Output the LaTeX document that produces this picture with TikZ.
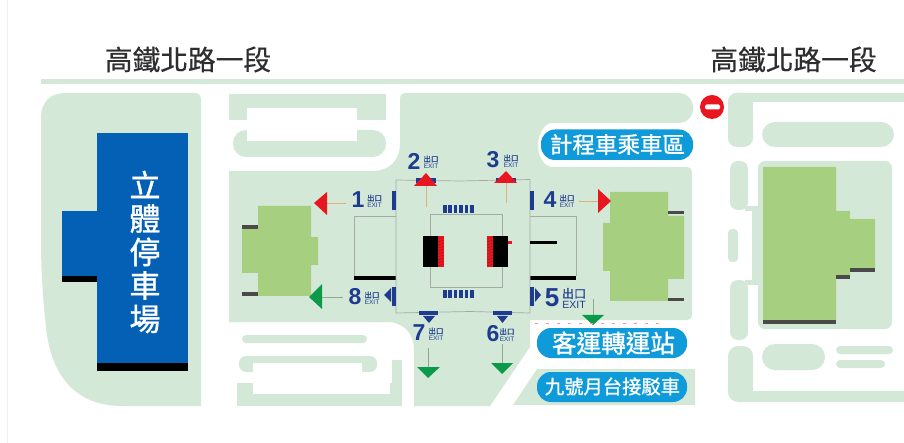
\documentclass[tikz,border=0pt]{standalone}
\usepackage{fontspec}
\setmainfont{Liberation Sans}
\newfontfamily\cjk[FakeBold=0.5]{Noto Sans CJK TC}
\newfontfamily\cjkb[FakeBold=1.2]{Noto Sans CJK TC}
\definecolor{pale}{HTML}{D4E8D7}
\definecolor{bldg}{HTML}{A6CF80}
\definecolor{parkblue}{HTML}{0460B4}
\definecolor{tagblue}{HTML}{0F9ADA}
\definecolor{navy}{HTML}{1F3B8F}
\definecolor{redarrow}{HTML}{E8161F}
\definecolor{greenarrow}{HTML}{0A9A4A}
\definecolor{darkbar}{HTML}{4A4A4A}
\definecolor{wall}{HTML}{A3ABA3}
\definecolor{tan}{HTML}{E0B080}
\definecolor{stem}{HTML}{8FA890}
\tikzset{
  ground/.style={fill=pale,draw=none},
  hole/.style={fill=white,draw=none},
  house/.style={fill=bldg,draw=none},
  dbar/.style={fill=darkbar,draw=none},
  kbar/.style={fill=black,draw=none},
  nbar/.style={fill=navy,draw=none},
  wallbox/.style={draw=wall,line width=.7pt},
  tag/.style={fill=tagblue,draw=none,rounded corners=14pt},
  tagtext/.style={text=white,inner sep=0pt,font=\cjkb},
  title/.style={text=black!82,inner sep=0pt,font=\cjk\fontsize{27.7}{28}\selectfont},
  digit/.style={text=navy,inner sep=0pt,font=\bfseries\fontsize{23}{23}\selectfont},
  cn/.style={text=navy,inner sep=0pt,font=\cjk\fontsize{7.5}{8}\selectfont},
  en/.style={text=navy,inner sep=0pt,font=\fontsize{6.5}{6.5}\selectfont},
}
\newcommand{\exitlabel}[4]{%
  \node[digit] (d#1) at (#2,#4) {#1};
  \node[cn] (c#1) at (#3,#4-2) {出口};
  \node[en] (e#1) at (#3,#4+5.5) {EXIT};
}
\begin{document}
\begin{tikzpicture}[x=1pt,y=-1pt]
\useasboundingbox (0,0) rectangle (904,443);
\fill[white] (0,0) rectangle (904,443);
\draw[black!6,line width=.8pt] (7,0) -- (7,443);
% road + titles
\fill[ground] (41,79.5) rectangle (904,84.5);
\node[title] (t1) at (188,59.5) {高鐵北路一段};
\node[title] (t2) at (793.5,59.5) {高鐵北路一段};
% left parking ground
\path[ground] (66,93) -- (195,93) .. controls (199,93) and (201,96) .. (201,100) -- (201,406)
  -- (122,406) .. controls (75,406) and (53,375) .. (47,335) .. controls (43,305) and (41,270) .. (41,240)
  -- (41,118) .. controls (41,102) and (50,93) .. (66,93) -- cycle;
\fill[parkblue] (97,133) rectangle (188,363);
\fill[parkblue] (62,211) rectangle (97,277);
\fill[black] (97,362.5) rectangle (188,371);
\fill[black] (62,276) rectangle (97,282);
\node[text=white,inner sep=0pt,align=center,font=\cjkb\fontsize{31}{33.4}\selectfont] (park) at (145,252) {立\\體\\停\\車\\場};
% top-middle ground
\fill[ground] (229,94) rectangle (386,120);
\fill[ground,rounded corners=13pt] (233,130) rectangle (386,157);
\fill[hole] (247,108) rectangle (357,141);
% central ground
\path[ground] (229,171) -- (372,171) .. controls (390,171) and (400,160) .. (400,143) -- (400,99)
  .. controls (400,95) and (402,93) .. (406,93) -- (678,93) .. controls (688,93) and (693,100) .. (693,108)
  .. controls (693,116) and (688,123) .. (678,123) -- (552,123) .. controls (544,123) and (538,135) .. (538,145)
  .. controls (538,157) and (544,167) .. (553,167) -- (686,167) .. controls (690,167) and (692,169) .. (692,173)
  -- (692,314) .. controls (692,318) and (690,320) .. (686,320) -- (530,320) -- (530,347) -- (490,406)
  -- (414,406) -- (414,350) .. controls (414,333) and (403,322) .. (387,322) -- (229,322) -- cycle;
\fill[ground] (513,405) -- (535,372) -- (537,369) -- (695,369) -- (695,405) -- cycle;
% lower-left ground
\fill[ground,rounded corners=4pt] (242,335) rectangle (367,343);
\fill[ground,rounded corners=7pt] (239,356) rectangle (377,372);
\fill[ground] (237,383) rectangle (400,406);
\fill[ground] (392,360) rectangle (402,406);
\fill[hole] (253,363) rectangle (362,383);
\fill[hole] (253,372) rectangle (390,394);
% right ground
\fill[ground,rounded corners=9pt] (728,93) rectangle (920,120);
\fill[ground,rounded corners=9pt] (728,93) rectangle (753,147);
\fill[hole] (753,102) rectangle (904,125);
\fill[ground,rounded corners=13pt] (762,122) rectangle (894,147);
\fill[ground,rounded corners=7pt] (758,161) rectangle (892,329);
\fill[ground,rounded corners=8pt] (730,161) rectangle (748,210);
\fill[ground] (745,206) rectangle (760,211);
\fill[ground] (752,206) rectangle (760,284);
\fill[ground,rounded corners=8pt] (730,280) rectangle (748,340);
\fill[ground] (745,280) rectangle (760,285);
\fill[ground,rounded corners=4pt] (728,229) rectangle (738,262);
\fill[ground,rounded corners=10pt] (728,346) rectangle (753,402);
\fill[ground] (745,391) rectangle (904,402);
\fill[ground,rounded corners=13pt] (762,344) rectangle (825,370);
\fill[ground,rounded corners=4pt] (836,346) rectangle (893,354);
\fill[ground,rounded corners=4pt] (836,360) rectangle (885,368);
% buildings
\path[house] (258,206) -- (311,206) -- (311,237) -- (318,237) -- (318,265) -- (311,265) -- (311,296) -- (258,296) -- (258,273) -- (242,273) -- (242,229) -- (258,229) -- cycle;
\fill[dbar] (242,225) rectangle (258,229);
\fill[dbar] (242,292) rectangle (258,296);
\path[house] (610,192) -- (668,192) -- (668,216) -- (684,216) -- (684,279) -- (668,279) -- (668,301) -- (610,301) -- (610,271) -- (603,271) -- (603,223) -- (610,223) -- cycle;
\fill[dbar] (668,211) rectangle (684,214.5);
\fill[dbar] (668,298) rectangle (684,301);
\path[house] (763,167) -- (836,167) -- (836,211) -- (850,211) -- (850,219) -- (875,219) -- (875,268) -- (850,268) -- (850,276) -- (836,276) -- (836,320) -- (763,320) -- cycle;
\fill[dbar] (763,320) rectangle (836,324);
\fill[dbar] (836,275) rectangle (850,279);
\fill[dbar] (850,268) rectangle (875,272);
% station
\draw[wallbox] (396,216) -- (354,216) -- (354,276);
\draw[wallbox] (530,216) -- (576,216) -- (576,276);
\fill[kbar] (354,276) rectangle (396,280);
\fill[kbar] (530,276) rectangle (576,280);
\draw[wallbox,fill=pale] (396,180) -- (460,181) -- (530,179.5) -- (530,313) -- (470,311.5) -- (396,313) -- cycle;
\fill[kbar] (530,241) rectangle (557,244);
\fill[nbar] (392,191) rectangle (396,210);
\fill[nbar] (530,191) rectangle (534,210);
\fill[nbar] (392,287) rectangle (396,306);
\fill[nbar] (530,287) rectangle (534,306);
\fill[navy] (391,288) -- (391,302) -- (384,295) -- cycle;
\fill[navy] (535,288) -- (535,302) -- (541,295) -- cycle;
\fill[nbar] (416,178) rectangle (436,183);
\fill[nbar] (496,178) rectangle (516,183);
\fill[nbar] (419,311) rectangle (438,315);
\fill[nbar] (493,311) rectangle (512,315);
\fill[navy] (423,316) -- (435,316) -- (429,323) -- cycle;
\fill[navy] (497,316) -- (508,316) -- (502.5,323) -- cycle;
\draw[wallbox] (430,214) rectangle (502,287);
\fill[kbar] (423,236) rectangle (438,267);
\fill[redarrow] (438,236) rectangle (444,267);
\fill[redarrow] (487,236) rectangle (493,267);
\fill[kbar] (493,236) rectangle (508,267);
\fill[redarrow] (508,241) rectangle (512,244);
\foreach \i in {0,...,9} {
  \draw[black!25!redarrow,line width=.35pt] (438,239+\i*3) -- (444,237+\i*3);
  \draw[black!25!redarrow,line width=.35pt] (487,239+\i*3) -- (493,237+\i*3);
}
\foreach \i in {0,...,5} {
  \fill[navy] (443+\i*5.4,205) rectangle +(3.6,8);
  \fill[navy] (443+\i*5.4,290) rectangle +(3.6,8);
}
% arrows
\draw[tan,line width=.7pt] (426,186) -- (426,207);
\fill[redarrow] (426,173) -- (437,186) -- (414,186) -- cycle;
\draw[tan,line width=.7pt] (506,183) -- (506,203);
\fill[redarrow] (506,171) -- (517,183) -- (494,183) -- cycle;
\draw[tan,line width=.7pt] (327,203) -- (346,203);
\fill[redarrow] (314,203) -- (327,192) -- (327,215) -- cycle;
\draw[tan,line width=.7pt] (579,201) -- (598,201);
\fill[redarrow] (611,201) -- (598,189) -- (598,213) -- cycle;
\draw[stem,line width=.7pt] (322,297) -- (343,297);
\fill[greenarrow] (309,297) -- (322,284) -- (322,309) -- cycle;
\draw[stem,line width=.7pt] (593,299) -- (593,315);
\fill[greenarrow] (593,325) -- (582,315) -- (604,315) -- cycle;
\draw[stem,line width=.7pt] (428,348) -- (428,367);
\fill[greenarrow] (428,378) -- (417,367) -- (440,367) -- cycle;
\draw[stem,line width=.7pt] (502,344) -- (502,363);
\fill[greenarrow] (502,374) -- (491,363) -- (513,363) -- cycle;
% exit labels
\exitlabel{1}{358}{374.5}{200}
\exitlabel{2}{414}{431}{161}
\exitlabel{3}{493}{511}{160}
\exitlabel{4}{550}{567}{200}
\exitlabel{6}{493}{507}{333.5}
\exitlabel{7}{419}{436}{333}
\exitlabel{8}{355}{372}{297}
\node[digit,font=\bfseries\fontsize{26}{26}\selectfont] (d5) at (552,298) {5};
\node[cn,font=\cjk\fontsize{12}{12}\selectfont] (c5) at (574,293.5) {出口};
\node[en,font=\fontsize{10.5}{10.5}\selectfont] (e5) at (574,304.5) {EXIT};
% tags
\draw[redarrow!45,line width=.7pt,dash pattern=on 3pt off 8pt] (535,323) -- (662,323);
\fill[tag] (541,129.5) rectangle (693,160);
\node[tagtext,font=\cjkb\fontsize{22.5}{23}\selectfont] (taxi) at (617.5,144.5) {計程車乘車區};
\fill[tag] (537,328) rectangle (687,358);
\node[tagtext,font=\cjkb\fontsize{24.6}{25}\selectfont] (bus) at (613.5,343) {客運轉運站};
\fill[tag] (537,372) rectangle (687,402);
\node[tagtext,font=\cjkb\fontsize{19.3}{20}\selectfont] (nine) at (612.5,386.5) {九號月台接駁車};
% no entry
\fill[redarrow] (712,107) circle (12);
\fill[white,rounded corners=1.5pt] (705,104.5) rectangle (720,109.5);
\end{tikzpicture}
\end{document}
